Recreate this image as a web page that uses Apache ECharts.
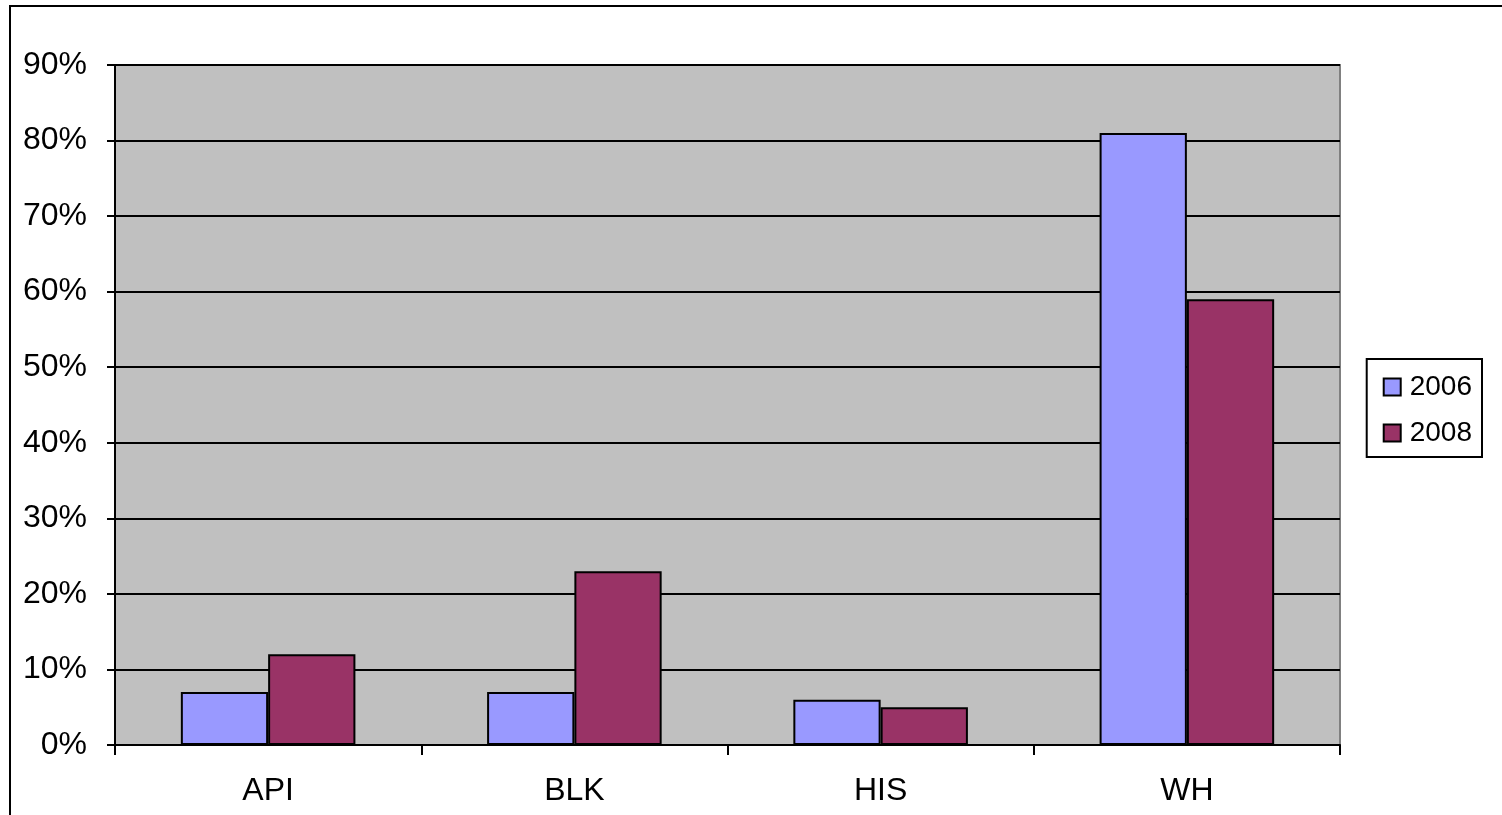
<!DOCTYPE html>
<html>
<head>
<meta charset="utf-8">
<script src="https://cdn.jsdelivr.net/npm/echarts@6/dist/echarts.min.js"></script>
<style>
html, body { margin: 0; padding: 0; background: #fff; }
#chart { width: 1502px; height: 815px; }
</style>
</head>
<body>
<div id="chart"></div>
<script>
// categories and values (percent)
var groups = ['API', 'BLK', 'HIS', 'WH'];
var years = ['2006', '2008'];
var values2006 = [7, 7, 6, 81];
var values2008 = [12, 23, 5, 59];
var yTicks = [0, 10, 20, 30, 40, 50, 60, 70, 80, 90];

var font = 'Liberation Sans, Arial, sans-serif';
var chart = echarts.init(document.getElementById('chart'));

var option = {
    backgroundColor: '#ffffff',
    animation: false,
    grid: {
        left: 115, right: 162, top: 65, bottom: 70,
        show: true,
        backgroundColor: '#c0c0c0',
        borderColor: '#808080',
        borderWidth: 2
    },
    legend: {
        orient: 'vertical',
        right: 20,
        top: 359,
        data: years,
        icon: 'rect',
        itemWidth: 17,
        itemHeight: 17,
        itemGap: 18,
        padding: [14, 10, 10, 16],
        borderColor: '#000',
        borderWidth: 2,
        textStyle: { fontFamily: font, fontSize: 28, color: '#000', padding: [0, 0, 0, 4] }
    },
    xAxis: {
        type: 'category',
        data: groups,
        axisLine: { lineStyle: { color: '#000', width: 2 } },
        axisTick: { show: true, length: 10, lineStyle: { color: '#000', width: 2 } },
        axisLabel: { fontFamily: font, fontSize: 32, color: '#000', margin: 30 }
    },
    yAxis: {
        type: 'value',
        min: yTicks[0],
        max: yTicks[yTicks.length - 1],
        interval: 10,
        axisLine: { show: true, lineStyle: { color: '#000', width: 2 } },
        axisTick: { show: true, length: 8, lineStyle: { color: '#000', width: 2 } },
        splitLine: { show: true, lineStyle: { color: '#000', width: 2 } },
        axisLabel: { fontFamily: font, fontSize: 32, color: '#000', margin: 28, formatter: '{value}%' }
    },
    series: [
        {
            name: years[0],
            type: 'bar',
            data: values2006,
            barGap: '0%',
            barCategoryGap: '43%',
            itemStyle: { color: '#9999ff', borderColor: '#000', borderWidth: 2 }
        },
        {
            name: years[1],
            type: 'bar',
            data: values2008,
            barGap: '0%',
            barCategoryGap: '43%',
            itemStyle: { color: '#993366', borderColor: '#000', borderWidth: 2 }
        }
    ],
    graphic: [{
        type: 'rect',
        shape: { x: 10, y: 6, width: 1600, height: 900 },
        style: { fill: 'none', stroke: '#000', lineWidth: 2 },
        silent: true
    }]
};

chart.setOption(option);
</script>
</body>
</html>
